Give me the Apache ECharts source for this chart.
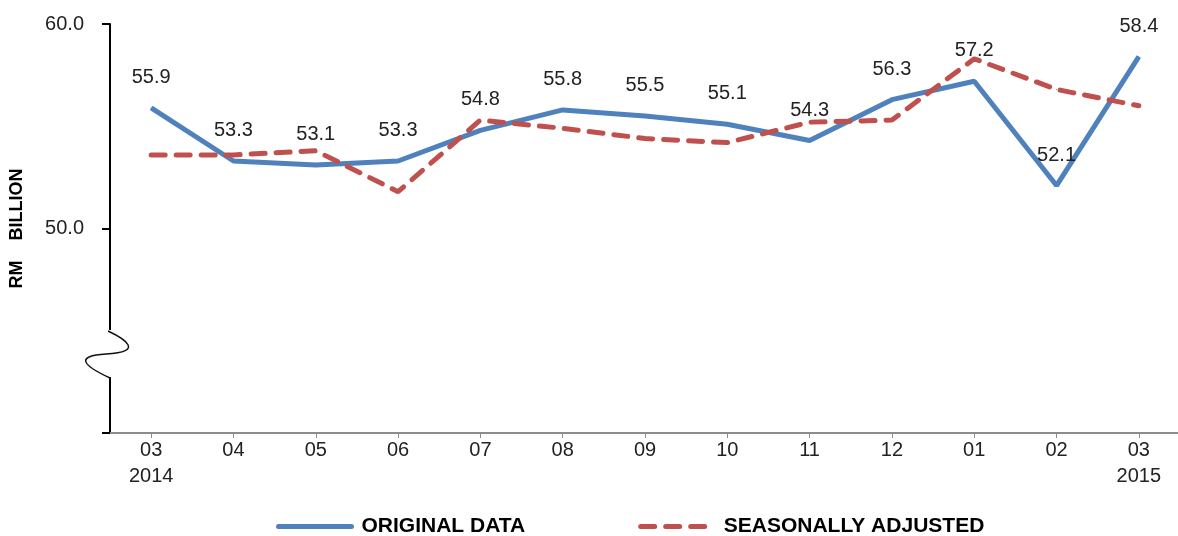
<!DOCTYPE html>
<html>
<head>
<meta charset="utf-8">
<script src="https://cdn.jsdelivr.net/npm/echarts@6/dist/echarts.min.js"></script>
<style>
html,body{margin:0;padding:0;background:#fff;}
#chart{width:1178px;height:536px;}
</style>
</head>
<body>
<div id="chart"></div>
<script>
const categories = ['03\n2014','04','05','06','07','08','09','10','11','12','01','02','03\n2015'];
const originalData = [55.9,53.3,53.1,53.3,54.8,55.8,55.5,55.1,54.3,56.3,57.2,52.1,58.4];
const seasonallyAdjusted = [53.6,53.6,53.8,51.8,55.3,54.9,54.4,54.2,55.2,55.3,58.3,56.8,56.0];
const seriesNames = ['ORIGINAL DATA','SEASONALLY ADJUSTED'];
const yAxisName = 'RM    BILLION';
const yMin = 40, yMax = 60, yInterval = 10;

const FONT = '"Liberation Sans", Arial, sans-serif';
const chart = echarts.init(document.getElementById('chart'));
chart.setOption({
  animation: false,
  backgroundColor: '#fff',
  grid: { left: 110, top: 24, width: 1070, height: 409, outerBoundsMode: 'none', containLabel: false },
  legend: {
    left: 271, top: 511,
    itemWidth: 73, itemHeight: 22, itemGap: 113,
    itemStyle: { opacity: 0 },
    lineStyle: { width: 5, cap: 'round' },
    textStyle: { fontFamily: FONT, fontSize: 21, fontWeight: 'bold', color: '#000', padding: [0,0,0,5] },
    data: seriesNames
  },
  xAxis: {
    type: 'category',
    data: categories,
    boundaryGap: true,
    axisLine: { lineStyle: { color: '#8c8c8c', width: 2 } },
    axisTick: { show: true, alignWithLabel: true, length: 5, lineStyle: { color: '#8c8c8c', width: 1 } },
    axisLabel: { fontFamily: FONT, fontSize: 20, color: '#222', lineHeight: 26, margin: 4 }
  },
  yAxis: {
    type: 'value',
    min: yMin, max: yMax, interval: yInterval,
    name: yAxisName,
    nameLocation: 'middle',
    nameGap: 84,
    nameTextStyle: { fontFamily: FONT, fontSize: 18, fontWeight: 'bold', color: '#000' },
    splitLine: { show: false },
    axisLine: { show: true, lineStyle: { color: '#000', width: 2 } },
    axisTick: { show: true, length: 8, lineStyle: { color: '#000', width: 2 } },
    axisLabel: {
      fontFamily: FONT, fontSize: 20, color: '#222', margin: 26,
      formatter: v => v === yMin ? '' : v.toFixed(1)
    }
  },
  series: [
    {
      name: seriesNames[0],
      type: 'line',
      data: originalData,
      symbol: 'circle', symbolSize: 1,
      itemStyle: { color: '#4F81BD' },
      lineStyle: { color: '#4F81BD', width: 5 },
      label: {
        show: true, position: 'top', distance: 20,
        fontFamily: FONT, fontSize: 20, color: '#222',
        formatter: p => p.value.toFixed(1)
      },
      z: 2
    },
    {
      name: seriesNames[1],
      type: 'line',
      data: seasonallyAdjusted,
      symbol: 'circle', symbolSize: 1,
      itemStyle: { color: '#C0504D' },
      lineStyle: { color: '#C0504D', width: 5, type: [14, 11], cap: 'round' },
      z: 3
    }
  ],
  graphic: [
    { type: 'rect', shape: { x: 106, y: 330, width: 10, height: 47 }, style: { fill: '#fff' }, z: 100 },
    { type: 'bezierCurve', z: 101,
      shape: { x1: 108, y1: 331, cpx1: 125, cpy1: 339, cpx2: 145, cpy2: 352, x2: 106, y2: 354 },
      style: { fill: null, stroke: '#111', lineWidth: 1.5 } },
    { type: 'bezierCurve', z: 101,
      shape: { x1: 106, y1: 354, cpx1: 75, cpy1: 356, cpx2: 82, cpy2: 365, x2: 110, y2: 378 },
      style: { fill: null, stroke: '#111', lineWidth: 1.5 } }
  ]
});
</script>
</body>
</html>
